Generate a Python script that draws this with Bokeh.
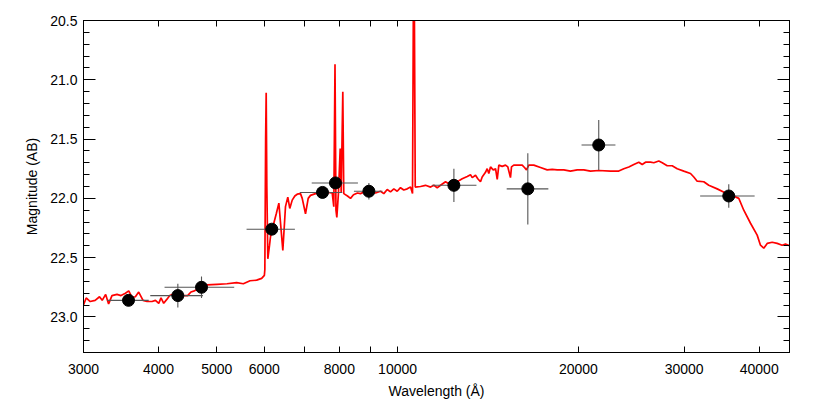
from bokeh.plotting import figure
from bokeh.models import (Range1d, FixedTicker, LogAxis, LinearAxis, ColumnDataSource,
                          NumeralTickFormatter, BasicTickFormatter, CustomJSTickFormatter)
from bokeh.embed import file_html
from bokeh.resources import INLINE

# ---------------- data ----------------
spec_wave = [3000, 3031, 3078, 3137, 3190, 3223, 3266, 3303, 3346, 3411, 3464, 3523, 3568,
             3614, 3660, 3707, 3769, 3827, 3901, 3953, 4003, 4038, 4080, 4132, 4175, 4268,
             4349, 4472, 4529, 4589, 4634, 4724, 4815, 5005, 5200, 5395, 5536, 5680, 5826,
             5939, 6001, 6012, 6030, 6043, 6058, 6081, 6121, 6143, 6222, 6281, 6344, 6441,
             6507, 6565, 6615, 6677, 6744, 6806, 6892, 6938, 7026, 7099, 7162, 7300, 7491,
             7635, 7783, 7831, 7867, 7896, 7922, 7973, 8025, 8056, 8106, 8136, 8253, 8349,
             8445, 8575, 8674, 8809, 8945, 9189, 9366, 9485, 9610, 9732, 9857, 9985, 10112,
             10241, 10377, 10509, 10589, 10643, 10700, 10919, 11129, 11347, 11491, 11640,
             11789, 12017, 12250, 12567, 12810, 13060, 13223, 13312, 13481, 13600, 13741,
             13830, 14007, 14098, 14186, 14278, 14426, 14557, 14651, 14742, 14932, 15123,
             15259, 15414, 15475, 15611, 15817, 16123, 16264, 16392, 16536, 16855, 17295,
             17743, 18090, 18439, 18911, 19400, 19907, 20417, 20947, 21623, 22617, 23347,
             23802, 24262, 24731, 25208, 25541, 25867, 26366, 26702, 27217, 27577, 28109,
             28650, 29209, 29952, 30734, 31126, 31530, 32340, 32963, 34043, 35150, 36060,
             36985, 37698, 38683, 39684, 40190, 40701, 41239, 42035, 42847, 43673, 44230,
             44919]
spec_mag = [22.90, 22.84, 22.87, 22.86, 22.83, 22.86, 22.81, 22.89, 22.82, 22.81, 22.82, 22.80, 22.78,
            22.835, 22.83, 22.79, 22.86, 22.87, 22.87, 22.86, 22.885, 22.84, 22.885, 22.85, 22.82, 22.80,
            22.82, 22.82, 22.79, 22.78, 22.77, 22.745, 22.73, 22.725, 22.72, 22.71, 22.72, 22.695, 22.69,
            22.675, 22.65, 22.60, 21.50, 21.11, 21.90, 22.51, 22.395, 22.325, 22.21, 22.13, 22.04, 22.44,
            22.07, 21.99, 22.085, 22.015, 21.98, 21.965, 21.96, 22.00, 22.13, 22.00, 21.975, 21.96, 21.95,
            21.95, 21.955, 22.07, 20.87, 22.10, 22.16, 21.95, 21.58, 21.95, 21.10, 21.96, 21.98, 22.00,
            21.97, 21.955, 21.96, 21.945, 21.94, 21.955, 21.94, 21.96, 21.925, 21.945, 21.92, 21.94, 21.91,
            21.93, 21.92, 21.905, 21.96, 19.50, 21.905, 21.90, 21.89, 21.905, 21.89, 21.91,
            21.89, 21.86, 21.885, 21.86, 21.835, 21.815, 21.80, 21.825, 21.805, 21.835, 21.86,
            21.82, 21.78, 21.75, 21.79, 21.735, 21.76, 21.75, 21.84, 21.72, 21.73, 21.72,
            21.735, 21.825, 21.735, 21.72, 21.72, 21.72, 21.74, 21.76, 21.72, 21.72, 21.74,
            21.76, 21.755, 21.76, 21.76, 21.77, 21.76, 21.76, 21.77, 21.765, 21.77, 21.77,
            21.75, 21.735, 21.715, 21.695, 21.715, 21.695, 21.695, 21.70, 21.685, 21.70, 21.725,
            21.725, 21.75, 21.77, 21.79, 21.82, 21.855, 21.86, 21.89, 21.92, 21.955, 21.975,
            22.00, 22.10, 22.21, 22.31, 22.395, 22.42, 22.38, 22.37, 22.38, 22.395, 22.385,
            22.40]

phot_wave = [3565, 4307, 4716, 6174, 7499, 7881, 8958, 12409, 16474, 21620, 35590]
phot_wave_lo = [3287, 3875, 4093, 5605, 6873, 7195, 8458, 11420, 15192, 20240, 31890]
phot_wave_hi = [3852, 4742, 5346, 6746, 8088, 8590, 9436, 13530, 17823, 23050, 39300]
phot_mag = [22.86, 22.82, 22.75, 22.26, 21.95, 21.87, 21.94, 21.89, 21.92, 21.55, 21.98]
phot_err = [0.045, 0.10, 0.09, 0.03, 0.04, 0.03, 0.07, 0.14, 0.30, 0.21, 0.10]

x_ticks = [3000, 4000, 5000, 6000, 7000, 8000, 9000, 10000, 20000, 30000, 40000]
x_unlabeled = [7000, 9000]
y_major = [20.5, 21.0, 21.5, 22.0, 22.5, 23.0]
y_minor = [20.5, 20.6, 20.7, 20.8, 20.9, 21.0, 21.1, 21.2, 21.3, 21.4, 21.5, 21.6, 21.7, 21.8,
           21.9, 22.0, 22.1, 22.2, 22.3, 22.4, 22.5, 22.6, 22.7, 22.8, 22.9, 23.0, 23.1, 23.2, 23.3]
x_lim = (3000, 44919)
y_lim = (23.3, 20.5)

FONT = "Liberation Sans"

# ---------------- figure ----------------
p = figure(x_axis_type="log", x_range=Range1d(*x_lim), y_range=Range1d(*y_lim),
           frame_width=706, frame_height=332,
           min_border_left=83, min_border_right=33, min_border_top=20, min_border_bottom=55,
           output_backend="svg", toolbar_location=None,
           background_fill_color="white", border_fill_color="white")
p.grid.visible = False
p.outline_line_color = "black"
p.outline_line_width = 1

# spectrum
p.line(spec_wave, spec_mag, line_color="#ff0000", line_width=1.7)

# photometry with error bars
src = ColumnDataSource(dict(
    x=phot_wave, lo=phot_wave_lo, hi=phot_wave_hi, y=phot_mag,
    ylo=[m - e for m, e in zip(phot_mag, phot_err)],
    yhi=[m + e for m, e in zip(phot_mag, phot_err)]))
p.segment(x0="lo", y0="y", x1="hi", y1="y", source=src, line_color="#555555", line_width=1.1)
p.segment(x0="x", y0="ylo", x1="x", y1="yhi", source=src, line_color="#555555", line_width=1.1)
p.scatter("x", "y", source=src, size=12, fill_color="black", line_color="black")

blank = CustomJSTickFormatter(code="return ''")


def style_x(ax, labels=True):
    ax.ticker = FixedTicker(ticks=x_ticks)
    ax.major_tick_in = 6
    ax.major_tick_out = 0
    ax.minor_tick_in = 0
    ax.minor_tick_out = 0
    ax.axis_line_color = "black"
    ax.major_tick_line_color = "black"
    if labels:
        ax.formatter = BasicTickFormatter(use_scientific=False)
        ax.major_label_overrides = {t: "" for t in x_unlabeled}
        ax.major_label_text_font = FONT
        ax.major_label_text_font_size = "14px"
        ax.major_label_text_color = "black"
        ax.major_label_standoff = 11
    else:
        ax.formatter = blank
        ax.major_label_standoff = 0


def style_y(ax, labels=True):
    ax.ticker = FixedTicker(ticks=y_major, minor_ticks=y_minor)
    ax.major_tick_in = 12
    ax.major_tick_out = 0
    ax.minor_tick_in = 6
    ax.minor_tick_out = 0
    ax.axis_line_color = "black"
    ax.major_tick_line_color = "black"
    ax.minor_tick_line_color = "black"
    if labels:
        ax.formatter = NumeralTickFormatter(format="0.0")
        ax.major_label_text_font = FONT
        ax.major_label_text_font_size = "14px"
        ax.major_label_text_color = "black"
        ax.major_label_standoff = 6
    else:
        ax.formatter = blank
        ax.major_label_standoff = 0


xa = p.xaxis[0]
style_x(xa)
xa.axis_label = "Wavelength (Å)"
xa.axis_label_text_font = FONT
xa.axis_label_text_font_size = "14px"
xa.axis_label_text_font_style = "normal"
xa.axis_label_text_color = "black"
xa.axis_label_standoff = 6

ya = p.yaxis[0]
style_y(ya)
ya.axis_label = "Magnitude (AB)"
ya.axis_label_text_font = FONT
ya.axis_label_text_font_size = "14px"
ya.axis_label_text_font_style = "normal"
ya.axis_label_text_color = "black"
ya.axis_label_standoff = 7

top = LogAxis()
style_x(top, labels=False)
p.add_layout(top, "above")

right = LinearAxis()
style_y(right, labels=False)
p.add_layout(right, "right")

open("out.html", "w").write(file_html(p, INLINE))
